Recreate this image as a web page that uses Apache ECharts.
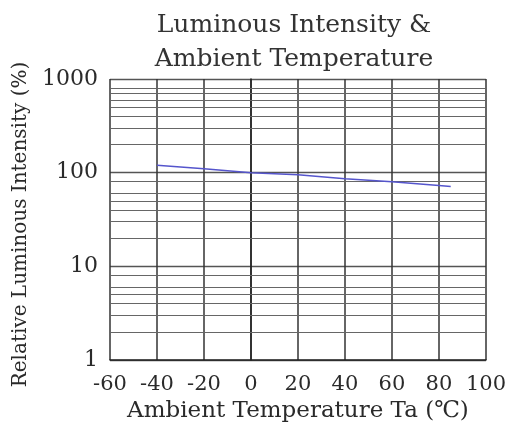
<!DOCTYPE html>
<html>
<head>
<meta charset="utf-8">
<script src="https://cdn.jsdelivr.net/npm/echarts@6/dist/echarts.min.js"></script>
<style>
  html, body { margin: 0; padding: 0; background: #fff; }
  #chart { width: 509px; height: 430px; }
</style>
</head>
<body>
<div id="chart"></div>
<script>
// Ambient temperature (°C) and relative luminous intensity (%)
const temperature = [-40, -20, 0, 20, 40, 60, 80, 85];
const relativeIntensity = [120, 110, 100, 95, 86, 80, 73, 71];

// Axis ranges and tick spacing
const xMin = -60, xMax = 100, xStep = 20;
const yMin = 1, yMax = 1000;

// Minor horizontal rules inside each decade of the log scale
const minorRules = [2, 3, 4, 5, 6, 8, 20, 30, 40, 50, 60, 80, 200, 300, 400, 500, 600, 700, 800];

const titleLines = ['Luminous Intensity &', 'Ambient Temperature'];
const xName = 'Ambient Temperature Ta (℃)';
const yName = 'Relative Luminous Intensity (%)';

const serif = 'DejaVu Serif';
const ink = '#2a2a2a';

const chart = echarts.init(document.getElementById('chart'), null, { renderer: 'canvas' });

chart.setOption({
  animation: false,
  backgroundColor: '#ffffff',
  title: {
    text: titleLines.join('\n'),
    left: 289,
    top: 3,
    textAlign: 'center',
    textStyle: {
      fontFamily: serif,
      fontSize: 25,
      fontWeight: 'normal',
      color: '#333',
      lineHeight: 34
    }
  },
  grid: { left: 110, right: 22, top: 79, bottom: 70 },
  xAxis: {
    type: 'value',
    min: xMin,
    max: xMax,
    interval: xStep,
    name: xName,
    nameLocation: 'middle',
    nameGap: 40,
    nameTextStyle: { fontFamily: serif, fontSize: 23, color: ink },
    axisLine: { show: true, lineStyle: { color: '#222', width: 1.5 } },
    axisTick: { show: false },
    axisLabel: { fontFamily: serif, fontSize: 21, color: ink, margin: 14 },
    splitLine: { show: true, lineStyle: { color: '#333', width: 1.5 } }
  },
  yAxis: {
    type: 'log',
    logBase: 10,
    min: yMin,
    max: yMax,
    name: yName,
    nameLocation: 'middle',
    nameRotate: 90,
    nameGap: 76,
    nameTextStyle: { fontFamily: serif, fontSize: 20, color: ink, padding: [0, 10, 0, 0] },
    axisLine: { show: true, lineStyle: { color: '#222', width: 1.5 } },
    axisTick: { show: false },
    axisLabel: {
      fontFamily: serif, fontSize: 22, color: ink, margin: 12,
      formatter: v => String(Math.round(v))
    },
    splitLine: { show: true, lineStyle: { color: '#555', width: 1.3 } }
  },
  series: [
    {
      type: 'line',
      data: [],
      z: 1,
      silent: true,
      markLine: {
        silent: true,
        symbol: 'none',
        label: { show: false },
        lineStyle: { color: '#666', type: 'solid', width: 1.2 },
        emphasis: { disabled: true },
        data: minorRules.map(v => ({ yAxis: v }))
      }
    },
    {
      type: 'line',
      z: 5,
      data: temperature.map((t, i) => [t, relativeIntensity[i]]),
      showSymbol: false,
      smooth: false,
      lineStyle: { color: '#5555cc', width: 1.5 }
    }
  ]
});
</script>
</body>
</html>
